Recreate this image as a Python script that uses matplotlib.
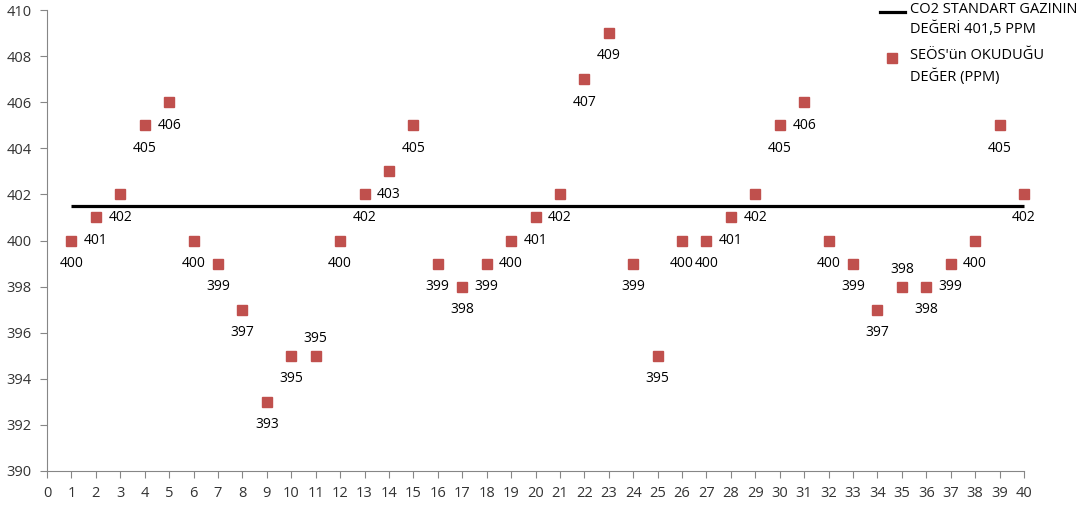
import matplotlib
matplotlib.use("Agg")
import matplotlib.pyplot as plt
from matplotlib.lines import Line2D

# ---- data ----
olcum_no = list(range(1, 41))
seos_ppm = [400, 401, 402, 405, 406, 400, 399, 397, 393, 395,
            395, 400, 402, 403, 405, 399, 398, 399, 400, 401,
            402, 407, 409, 399, 395, 400, 400, 401, 402, 405,
            406, 400, 399, 397, 398, 398, 399, 400, 405, 402]
standart_ppm = 401.5
line_label = "CO2 STANDART GAZININ\nDEĞERİ 401,5 PPM"
point_label = "SEÖS'ün OKUDUĞU\nDEĞER (PPM)"
labels_above = [11, 35]
y_ticks = list(range(390, 411, 2))
x_ticks = list(range(0, 41))

plt.rcParams['font.family'] = ['Open Sans', 'DejaVu Sans']
W, H = 1081, 508
fig = plt.figure(figsize=(W / 100, H / 100), dpi=100)
ax = fig.add_axes([47 / W, 1 - 471 / H, (1024 - 47) / W, (471 - 10) / H])

red = '#C0504D'
txt = '#333333'
axcol = '#868686'

ax.plot(olcum_no, [standart_ppm] * len(olcum_no), color='black', lw=2.3,
        solid_capstyle='butt', zorder=2, clip_on=False)
ax.plot(olcum_no, seos_ppm, ls='none', marker='s', markersize=7,
        color=red, markeredgecolor=red, zorder=3, clip_on=False)

for x, y in zip(olcum_no, seos_ppm):
    if x in labels_above:
        off = (0, 12.5)
    else:
        off = (0, -16.5)
    ax.annotate(str(y), (x, y), xytext=off, textcoords='offset points',
                ha='center', va='center', fontsize=10, color='black',
                annotation_clip=False)

ax.set_xlim(0, 40)
ax.set_ylim(390, 410)
ax.set_xticks(x_ticks)
ax.set_yticks(y_ticks)
for s in ['top', 'right']:
    ax.spines[s].set_visible(False)
for s in ['left', 'bottom']:
    ax.spines[s].set_color(axcol)
    ax.spines[s].set_linewidth(0.8)
ax.tick_params(axis='both', colors=axcol, labelcolor=txt, labelsize=10.5,
               length=5, width=0.8, direction='out')
ax.tick_params(axis='y', pad=6)
ax.tick_params(axis='x', pad=6)

# ---- legend (manual) ----
def fx(px):
    return px / W

def fy(py):
    return 1 - py / H

fig.add_artist(Line2D([fx(880), fx(905)], [fy(12), fy(12)], color='black',
                      lw=2.3, transform=fig.transFigure))
fig.text(fx(910), fy(2), line_label, ha='left', va='top', fontsize=10.5,
         color='black', linespacing=1.4, transform=fig.transFigure)
fig.add_artist(Line2D([fx(892)], [fy(58)], marker='s', markersize=7,
                      color=red, ls='none', transform=fig.transFigure))
fig.text(fx(910), fy(48), point_label, ha='left', va='top', fontsize=10.5,
         color='black', linespacing=1.4, transform=fig.transFigure)

fig.savefig('out.png', dpi=100)
